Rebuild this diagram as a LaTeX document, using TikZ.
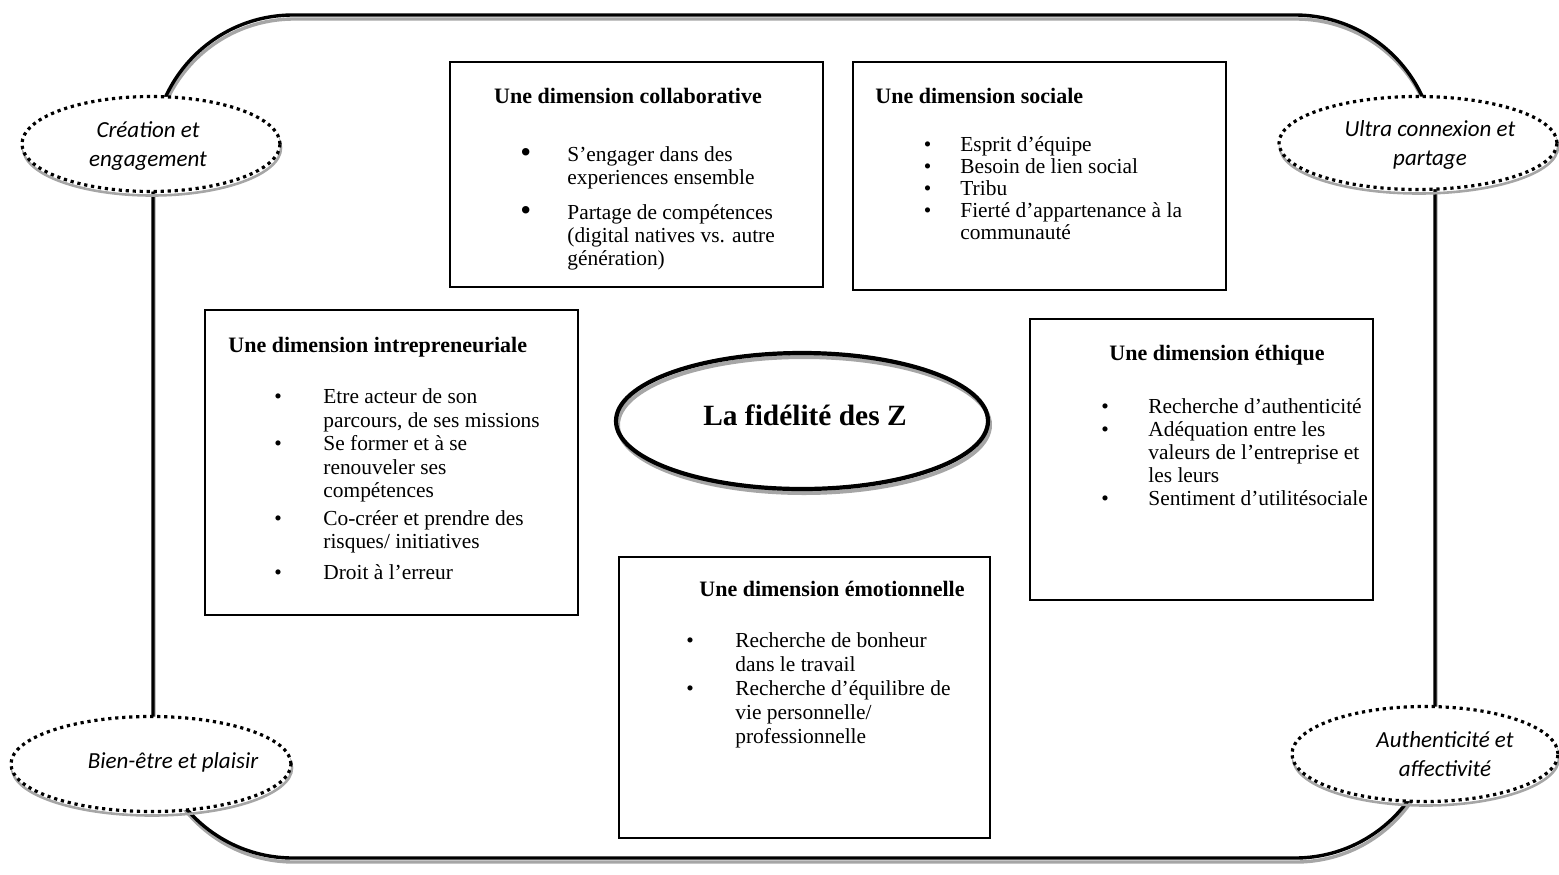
\documentclass[tikz,border=0pt]{standalone}
\usepackage{fontspec}
\setmainfont{Liberation Serif}
\newfontfamily\calib{Carlito}
\usetikzlibrary{shapes.geometric}
\definecolor{shadowgray}{HTML}{A6A6A6}
\newcommand{\bigbl}{\raisebox{-0.6pt}{\scalebox{1.45}{\textbullet}}}
\tikzset{
 outerline/.style={line width=1.7pt, draw=black},
 outershadow/.style={line width=1.7pt, draw=shadowgray},
 themeell/.style={ellipse, draw=black, fill=white, line width=1.6pt, dash pattern=on 1.6pt off 1.9pt, inner sep=0pt},
 themeshadow/.style={ellipse, draw=shadowgray, line width=1.3pt, inner sep=0pt},
 themetext/.style={font=\calib\itshape\fontsize{11.5}{14.5}\selectfont, align=center, inner sep=0pt},
 dimbox/.style={rectangle, draw=black, line width=1.1pt, inner sep=0pt},
 dimtitle/.style={font=\bfseries\fontsize{11}{13}\selectfont, inner sep=0pt},
 dimlist/.style={inner sep=0pt, anchor=north west},
 coreell/.style={ellipse, draw=black, line width=2.1pt, inner sep=0pt},
 coreshadow/.style={ellipse, draw=shadowgray, line width=2pt, inner sep=0pt},
 coretext/.style={font=\bfseries\fontsize{14.7}{17}\selectfont, inner sep=0pt},
}
\begin{document}
\begin{tikzpicture}[x=0.5pt,y=-0.5pt]
\useasboundingbox (0,0) rectangle (1559,874);
% outer rounded frame
\draw[outershadow, rounded corners=70pt] (154,19) rectangle (1436,862);
\draw[outerline, rounded corners=70pt] (153,15) rectangle (1435,858);

% dimension boxes
\node[dimbox, minimum width=186.5pt, minimum height=112.5pt] (collab) at (636.5,174.5) {};
\node[dimbox, minimum width=186.5pt, minimum height=114pt] (social) at (1039.5,176) {};
\node[dimbox, minimum width=186.5pt, minimum height=152.5pt] (intrep) at (391.5,462.5) {};
\node[dimbox, minimum width=171.5pt, minimum height=140.5pt] (ethique) at (1201.5,459.5) {};
\node[dimbox, minimum width=185.5pt, minimum height=140.5pt] (emot) at (804.5,697.5) {};

% titles
\node[dimtitle, anchor=base] (collabT) at (628,103) {Une dimension collaborative};
\node[dimtitle, anchor=base west] (socialT) at (875,103) {Une dimension sociale};
\node[dimtitle, anchor=base west] (intrepT) at (228,352) {Une dimension intrepreneuriale};
\node[dimtitle, anchor=base] (ethiqueT) at (1217,360) {Une dimension éthique};
\node[dimtitle, anchor=base] (emotT) at (832,596) {Une dimension émotionnelle};

% lists
\node[dimlist, font=\fontsize{10.7}{11.5}\selectfont] (collabL) at (520,145) {%
\begin{tabular}{@{}p{23.5pt}@{}l@{}}
\bigbl & S’engager dans des\\
 & experiences ensemble\\[6pt]
\bigbl & Partage de compétences\\
 & (digital natives vs. autre\\
 & génération)
\end{tabular}};
\node[dimlist, font=\fontsize{10.7}{11}\selectfont] (socialL) at (923.5,136) {%
\begin{tabular}{@{}p{18.25pt}@{}l@{}}
\textbullet & Esprit d’équipe\\
\textbullet & Besoin de lien social\\
\textbullet & Tribu\\
\textbullet & Fierté d’appartenance à la\\
 & communauté
\end{tabular}};
\node[dimlist, font=\fontsize{10.7}{11.75}\selectfont] (intrepL) at (274,387) {%
\begin{tabular}{@{}p{24.5pt}@{}l@{}}
\textbullet & Etre acteur de son\\
 & parcours, de ses missions\\
\textbullet & Se former et à se\\
 & renouveler ses\\
 & compétences\\[2pt]
\textbullet & Co-créer et prendre des\\
 & risques/ initiatives\\[3.5pt]
\textbullet & Droit à l’erreur
\end{tabular}};
\node[dimlist, font=\fontsize{10.7}{11.5}\selectfont] (ethiqueL) at (1101,397) {%
\begin{tabular}{@{}p{23.5pt}@{}l@{}}
\textbullet & Recherche d’authenticité\\
\textbullet & Adéquation entre les\\
 & valeurs de l’entreprise et\\
 & les leurs\\
\textbullet & Sentiment d’utilitésociale
\end{tabular}};
\node[dimlist, font=\fontsize{10.7}{12}\selectfont] (emotL) at (686,630) {%
\begin{tabular}{@{}p{24.5pt}@{}l@{}}
\textbullet & Recherche de bonheur\\
 & dans le travail\\
\textbullet & Recherche d’équilibre de\\
 & vie personnelle/\\
 & professionnelle
\end{tabular}};

% central ellipse
\node[coreshadow, minimum width=186pt, minimum height=68pt] (coreS) at (804,425) {};
\node[coreell, minimum width=186pt, minimum height=68pt] (core) at (802,421) {};
\node[coretext] (coreT) at (805,415) {La fidélité des Z};

% corner theme ellipses
\node[themeshadow, minimum width=129pt, minimum height=47.5pt] (tlS) at (152,148) {};
\node[themeell, minimum width=129pt, minimum height=47.5pt] (tl) at (151,144) {};
\node[themetext] (tlT) at (148,146) {Création et\\engagement};

\node[themeshadow, minimum width=139pt, minimum height=46.5pt] (trS) at (1419,147) {};
\node[themeell, minimum width=139pt, minimum height=46.5pt] (tr) at (1418,143) {};
\node[themetext] (trT) at (1430,145) {Ultra connexion et\\partage};

\node[themeshadow, minimum width=140pt, minimum height=47.5pt] (blS) at (152,768) {};
\node[themeell, minimum width=140pt, minimum height=47.5pt] (bl) at (151,764) {};
\node[themetext] (blT) at (173,762) {Bien-être et plaisir};

\node[themeshadow, minimum width=133pt, minimum height=47.5pt] (brS) at (1426,758) {};
\node[themeell, minimum width=133pt, minimum height=47.5pt] (br) at (1425,754) {};
\node[themetext] (brT) at (1445,754) {Authenticité et\\affectivité};
\end{tikzpicture}
\end{document}
